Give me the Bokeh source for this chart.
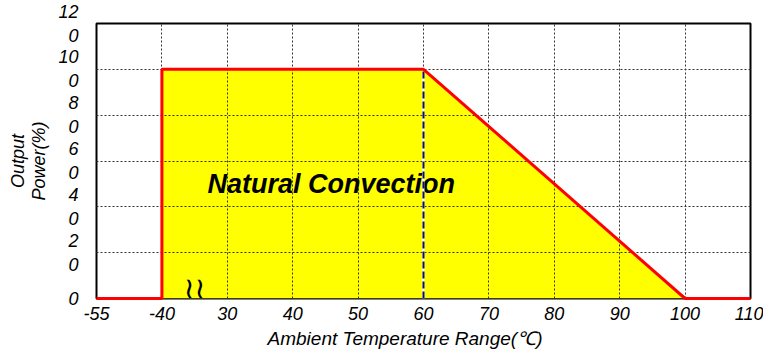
from bokeh.plotting import figure
from bokeh.models import FixedTicker, Label, Range1d
from bokeh.embed import file_html
from bokeh.resources import INLINE

# x axis is a broken axis: ticks equally spaced
temp_ticks = [-55, -40, 30, 40, 50, 60, 70, 80, 90, 100, 110]
power_ticks = [0, 20, 40, 60, 80, 100, 120]

# derating curve (temperature, output power %)
curve_temp = [-55, -40, -40, 60, 100, 110]
curve_power = [0, 0, 100, 100, 0, 0]

# filled area (natural convection)
area_temp = [-40, -40, 60, 100]
area_power = [0, 100, 100, 0]

# marker line at 60 degrees
mark_temp = [60, 60]
mark_power = [0, 100]

def pos(t):
    return temp_ticks.index(t)

FONT = "Liberation Sans"

p = figure(frame_width=654, frame_height=275, output_backend="svg", toolbar_location=None,
           min_border_left=96, min_border_right=13, min_border_top=23, min_border_bottom=45,
           x_range=Range1d(0, len(temp_ticks) - 1), y_range=Range1d(0, 120))
p.background_fill_color = "white"
p.border_fill_color = "white"
p.outline_line_color = "black"
p.outline_line_width = 2

p.patch([pos(t) for t in area_temp], area_power, fill_color="#ffff00", line_color=None)

r0 = p.line([pos(t) for t in mark_temp], mark_power, line_color="white", line_width=2)
r0.level = "overlay"
r1 = p.line([pos(t) for t in mark_temp], mark_power, line_color="#0a0a80", line_width=2, line_dash="7 3")
r1.level = "overlay"
r2 = p.line([pos(t) for t in curve_temp], curve_power, line_color="#ff0000", line_width=3)
r2.level = "overlay"

for g in (p.xgrid, p.ygrid):
    g.grid_line_color = "#333333"
    g.grid_line_dash = "2 2"
    g.grid_line_width = 1
    g.level = "guide"

p.xaxis.ticker = FixedTicker(ticks=list(range(len(temp_ticks))))
p.xaxis.major_label_overrides = {i: str(t) for i, t in enumerate(temp_ticks)}
p.yaxis.ticker = FixedTicker(ticks=power_ticks)
p.yaxis.major_label_overrides = {v: (str(v) if v < 10 else str(v)[:-1] + "\n" + str(v)[-1]) for v in power_ticks}

for ax in (p.xaxis[0], p.yaxis[0]):
    ax.axis_line_color = None
    ax.major_tick_line_color = None
    ax.minor_tick_line_color = None
    ax.major_label_text_font = FONT
    ax.major_label_text_font_style = "italic"
    ax.major_label_text_font_size = "18px"
    ax.major_label_text_color = "black"
    ax.axis_label_text_font = FONT
    ax.axis_label_text_font_style = "italic"
    ax.axis_label_text_color = "black"

p.xaxis.axis_label = "Ambient Temperature Range(℃)" + "\u00a0" * 7
p.xaxis.axis_label_text_font_size = "19px"
p.xaxis.major_label_standoff = 2
p.xaxis.axis_label_standoff = 5
p.yaxis.axis_label = "Output\nPower(%)"
p.yaxis.axis_label_text_font_size = "18px"
p.yaxis.axis_label_text_line_height = 1.05
p.yaxis.major_label_standoff = 12
p.yaxis.axis_label_standoff = 6

p.add_layout(Label(x=3.59, y=50, text="Natural Convection", text_align="center", text_baseline="middle",
                   text_font=FONT, text_font_style="bold italic", text_font_size="27px",
                   text_color="black"))
p.add_layout(Label(x=1.5, y=4.5, text="≀≀", text_align="center", text_baseline="middle",
                   text_font="DejaVu Sans", text_font_style="italic", text_font_size="29px",
                   text_color="black"))

open("out.html", "w").write(file_html(p, INLINE))
